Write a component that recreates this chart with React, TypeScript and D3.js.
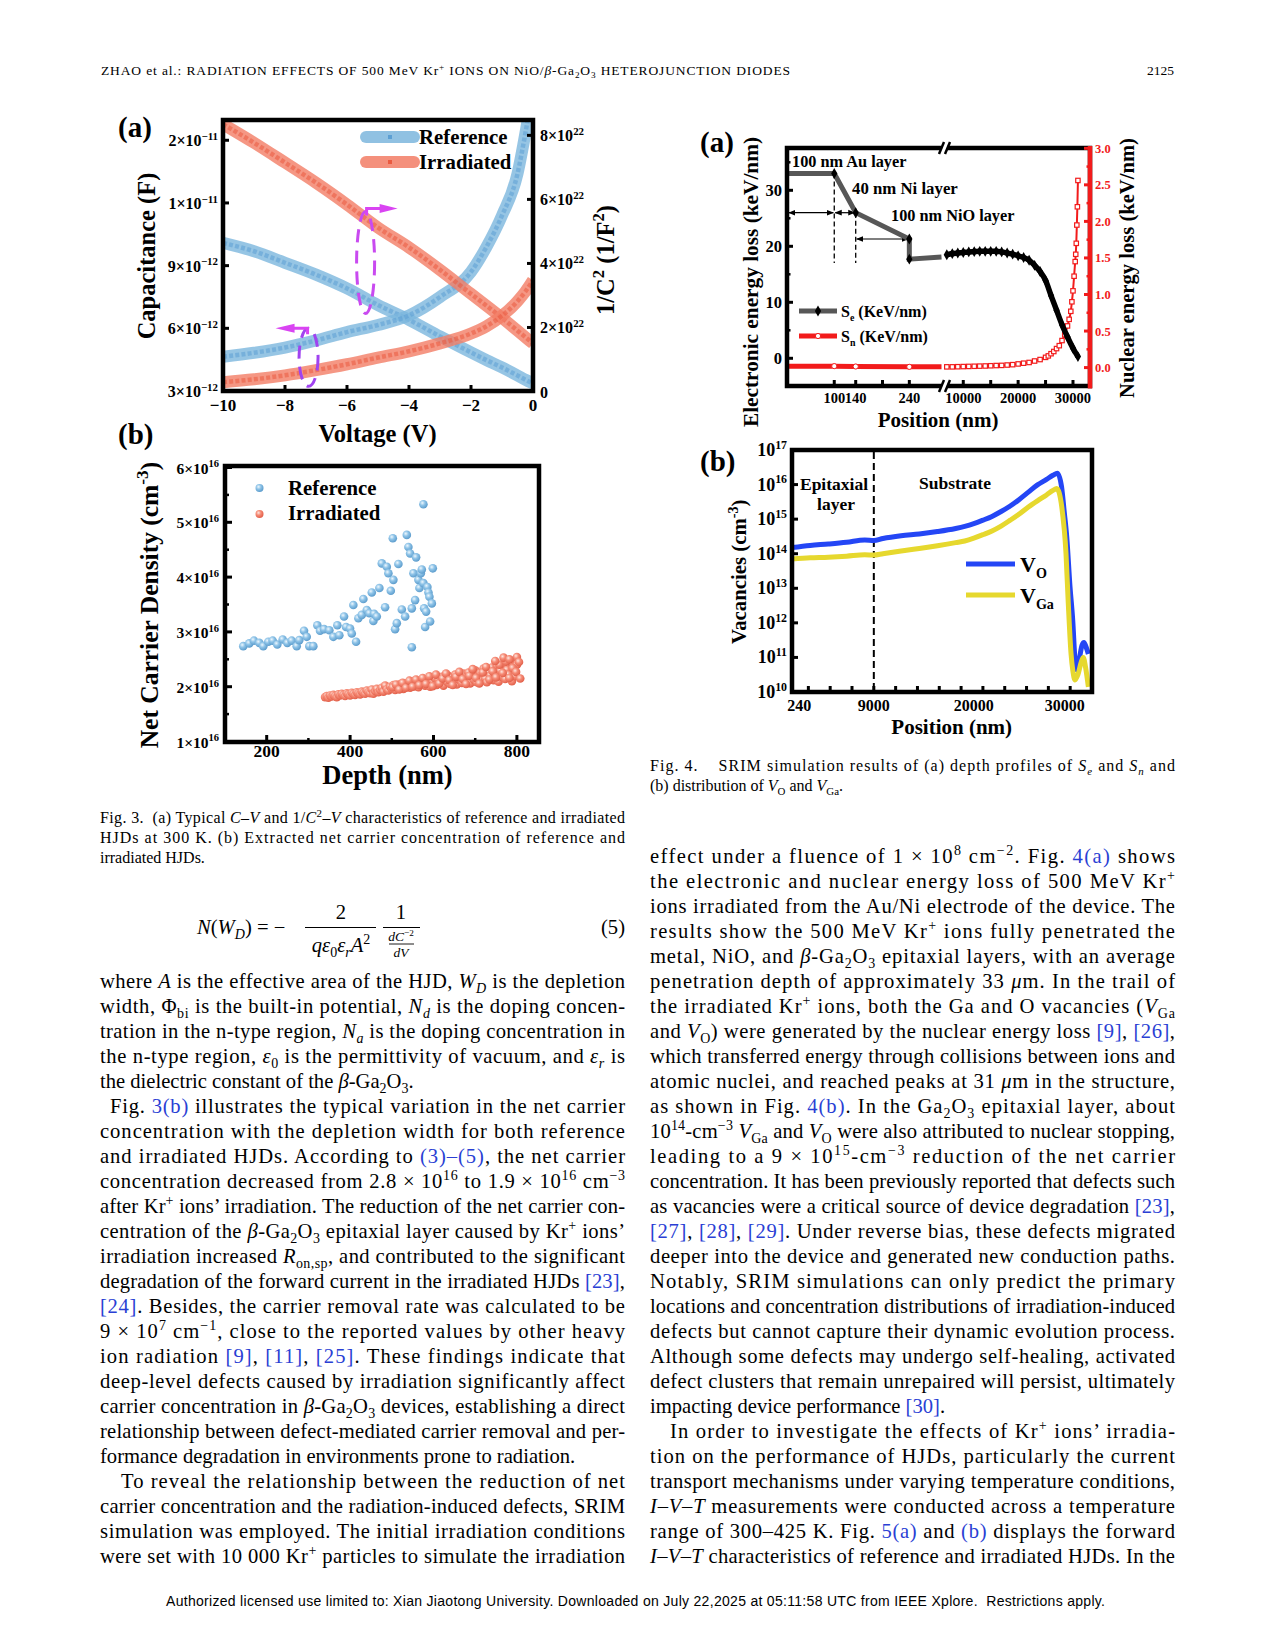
import React from 'react';
import * as d3 from 'd3';

const SERIF = "'Liberation Serif', 'Times New Roman', Times, serif";
const SANS = "'Liberation Sans', Arial, sans-serif";
const LINK = '#2a3fd4';

// ===================== Fig. 3(a) data =====================
const cvVoltage = [-10, -9, -8, -7, -6, -5, -4, -3, -2, -1.5, -1, -0.5, -0.25, 0];
const capReference = [4.64e-12, 4.83e-12, 5.08e-12, 5.42e-12, 5.82e-12, 6.16e-12, 6.62e-12, 7.5e-12, 8.7e-12, 9.9e-12, 11.4e-12, 13.4e-12, 15.3e-12, 17.5e-12];
const capIrradiated = [3.42e-12, 3.56e-12, 3.75e-12, 4.0e-12, 4.28e-12, 4.6e-12, 4.9e-12, 5.28e-12, 5.75e-12, 6.1e-12, 6.6e-12, 7.3e-12, 7.75e-12, 8.3e-12];
const invC2Reference = [4.64e22, 4.38e22, 4.02e22, 3.65e22, 3.22e22, 2.7e22, 2.24e22, 1.72e22, 1.22e22, 0.98e22, 0.75e22, 0.5e22, 0.37e22, 0.25e22];
const invC2Irradiated = [8.35e22, 7.77e22, 7.15e22, 6.52e22, 5.84e22, 5.12e22, 4.5e22, 3.8e22, 3.05e22, 2.68e22, 2.3e22, 1.9e22, 1.7e22, 1.5e22];
const voltTicks = [-10, -8, -6, -4, -2, 0];
const voltTickLabels = ['−10', '−8', '−6', '−4', '−2', '0'];
const capTicks = [3e-12, 6e-12, 9e-12, 12e-12, 15e-12];
const capTickLabels = ['3×10^{−12}', '6×10^{−12}', '9×10^{−12}', '1×10^{−11}', '2×10^{−11}'];
const invTicks = [0, 2e22, 4e22, 6e22, 8e22];
const invTickLabels = ['0', '2×10^{22}', '4×10^{22}', '6×10^{22}', '8×10^{22}'];
const annotVolt = [-5.4, -7.24];
const annotValue = [4.03e22, 4.61e-12];

// ===================== Fig. 3(b) data =====================
const refDepth = [143.8, 158.2, 169.5, 182.2, 191.8, 203.8, 214.4, 225.4, 238.4, 249.4, 260, 272, 278.2, 289.5, 296, 302.2, 311.8, 321.4, 327.9, 337.5, 350.2, 359.8, 369.4, 374.2, 385.5, 390.3, 399.9, 404, 407.8, 414.3, 419.8, 428, 431.8, 440, 446.2, 452, 455.8, 457.5, 464, 470.2, 476, 483.9, 488, 491.8, 497.6, 502.4, 503.8, 507.9, 512, 515.8, 524, 532, 536, 539.8, 543.9, 548, 548, 551.8, 555.9, 558.3, 563.8, 566.2, 569.6, 572, 575.8, 575.8, 577.5, 579.9, 582.3, 585.4, 587.9, 590.2, 591.9, 596, 598.3];
const refDensity = [2.74, 2.79, 2.84, 2.80, 2.74, 2.82, 2.84, 2.77, 2.86, 2.80, 2.84, 2.74, 2.85, 3.02, 2.91, 2.74, 2.74, 3.12, 3.02, 3.05, 3.03, 2.91, 3.12, 2.94, 3.28, 3.09, 3.06, 2.97, 3.49, 2.82, 3.25, 3.31, 3.60, 3.40, 3.34, 3.72, 3.20, 3.33, 3.28, 3.80, 4.25, 3.45, 4.19, 4.07, 3.75, 4.71, 3.95, 3.05, 3.16, 4.24, 3.41, 3.28, 4.77, 4.55, 4.43, 3.43, 2.72, 4.07, 3.58, 4.36, 3.95, 3.80, 4.07, 4.14, 3.89, 5.33, 3.43, 3.09, 3.37, 3.82, 3.72, 3.64, 3.19, 3.52, 4.16];
const irrDepthA = [340, 344, 348, 352, 356, 360, 364, 368, 372, 376, 380, 384, 388, 392, 396, 400, 404, 408, 412, 416, 420, 424, 428, 432, 436, 440, 444, 448, 452, 456, 460, 464, 468, 472, 476, 480, 484, 488, 492, 496, 500, 504, 508, 512, 516, 520, 524, 528, 532, 536, 540, 544, 548, 552, 556, 560, 564, 568, 572, 576, 580, 584, 588, 592, 596, 600, 604, 608, 612, 616, 620, 624, 628, 632, 636, 640, 644, 648, 652, 656, 660, 664, 668, 672, 676, 680, 684, 688, 692, 696, 700, 704, 708, 712, 716, 720, 724, 728, 732, 736, 740, 744, 748, 752, 756, 760, 764, 768, 772, 776, 780, 784, 788, 792, 796, 800];
const irrDensityA = [1.81, 1.83, 1.80, 1.84, 1.82, 1.85, 1.83, 1.81, 1.86, 1.84, 1.87, 1.85, 1.83, 1.88, 1.86, 1.84, 1.89, 1.87, 1.85, 1.90, 1.88, 1.86, 1.91, 1.89, 1.87, 1.93, 1.90, 1.88, 1.95, 1.87, 1.92, 1.96, 1.90, 1.94, 1.98, 1.91, 2.02, 1.95, 1.93, 2.00, 1.96, 2.03, 1.94, 2.01, 1.97, 2.05, 1.99, 1.96, 2.04, 2.00, 2.08, 1.98, 2.03, 2.10, 2.01, 2.06, 1.99, 2.09, 2.04, 2.12, 2.02, 2.07, 2.14, 2.00, 2.10, 2.05, 2.15, 2.03, 2.12, 2.08, 2.18, 2.02, 2.14, 2.09, 2.20, 2.05, 2.16, 2.11, 2.22, 2.04, 2.13, 2.19, 2.07, 2.24, 2.10, 2.17, 2.26, 2.06, 2.21, 2.13, 2.30, 2.08, 2.19, 2.25, 2.11, 2.33, 2.15, 2.08, 2.27, 2.20, 2.35, 2.12, 2.24, 2.38, 2.09, 2.29, 2.18, 2.42, 2.14, 2.31, 2.22, 2.45, 2.10, 2.35, 2.19, 2.40];
const irrDepthB = [502, 510, 518, 526, 534, 542, 550, 558, 566, 574, 582, 590, 598, 606, 614, 622, 630, 638, 646, 654, 662, 670, 678, 686, 694, 702, 710, 718, 726, 734, 742, 750, 758, 766, 774, 782, 790, 798, 768, 800, 805, 782, 748, 808];
const irrDensityB = [1.99, 2.04, 1.95, 2.07, 1.98, 2.11, 2.00, 2.13, 2.03, 2.16, 2.05, 2.19, 2.01, 2.22, 2.06, 2.15, 2.24, 2.12, 2.03, 2.18, 2.27, 2.14, 2.05, 2.20, 2.32, 2.16, 2.06, 2.26, 2.36, 2.13, 2.28, 2.17, 2.40, 2.25, 2.46, 2.16, 2.34, 2.27, 2.53, 2.54, 2.45, 2.50, 2.47, 2.15];
const depthTicks = [200, 400, 600, 800];
const depthMinor = [300, 500, 700];
const densTicks = [1e16, 2e16, 3e16, 4e16, 5e16, 6e16];
const densTickLabels = ['1×10^{16}', '2×10^{16}', '3×10^{16}', '4×10^{16}', '5×10^{16}', '6×10^{16}'];

// ===================== Fig. 4(a) data =====================
const sePos1 = [10, 100, 140, 240, 240, 300];
const seVal1 = [33, 33, 26, 21.3, 17.7, 18.1];
const snPos1 = [10, 100, 140, 240, 300];
const snVal1 = [0.02, 0.02, 0.015, 0.01, 0.01];
const sePos2 = [7000, 8000, 9000, 10000, 11000, 12000, 13000, 14000, 15000, 16000, 17000, 18000, 19000, 20000, 21000, 22000, 23000, 24000, 25000, 26000, 27000, 28000, 29000, 30000, 30900];
const seVal2 = [18.5, 18.7, 18.8, 18.9, 19.0, 19.05, 19.1, 19.1, 19.1, 19.1, 19.0, 18.8, 18.6, 18.3, 18.0, 17.5, 16.6, 15.5, 13.9, 11.2, 8.6, 6.0, 3.8, 1.8, 0.3];
const snPos2 = [7000, 8000, 9000, 10000, 11000, 12000, 13000, 14000, 15000, 16000, 17000, 18000, 19000, 20000, 21000, 22000, 23000, 24000, 25000, 25500, 26000, 26500, 27000, 27500, 28000, 28500, 29000, 29300, 29600, 29800, 30000, 30200, 30400, 30500, 30600, 30700, 30800, 30900];
const snVal2 = [0.01, 0.01, 0.012, 0.014, 0.016, 0.018, 0.02, 0.022, 0.025, 0.028, 0.03, 0.035, 0.04, 0.05, 0.06, 0.07, 0.09, 0.11, 0.14, 0.16, 0.19, 0.22, 0.26, 0.30, 0.37, 0.45, 0.57, 0.66, 0.77, 0.9, 1.05, 1.25, 1.45, 1.55, 1.7, 1.95, 2.2, 2.56];
const eTicks = [0, 10, 20, 30];
const eMinor = [-5, 5, 15, 25, 35];
const nTicks = [0, 0.5, 1.0, 1.5, 2.0, 2.5, 3.0];
const nMinor = [0.25, 0.75, 1.25, 1.75, 2.25, 2.75];
const pos1Ticks = [100, 140, 190, 240];
const pos1Labels = ['100', '140', '', '240'];
const pos2Ticks = [10000, 15000, 20000, 25000, 30000];
const pos2Labels = ['10000', '', '20000', '', '30000'];

// ===================== Fig. 4(b) data =====================
const vacPosO = [0, 2000, 4000, 6000, 8000, 9000, 10000, 12000, 14000, 16000, 18000, 19000, 20000, 21000, 22000, 23000, 24000, 25000, 26000, 27000, 28000, 28700, 29200, 29650, 29950, 30220, 30580, 30880, 31130, 31320, 31600, 31900, 32120, 32350, 32600];
const vacO = [1.51e14, 1.74e14, 1.91e14, 2.14e14, 2.51e14, 2.40e14, 2.75e14, 3.31e14, 3.72e14, 4.37e14, 5.37e14, 6.17e14, 7.41e14, 9.33e14, 1.20e15, 1.66e15, 2.40e15, 3.72e15, 6.03e15, 9.77e15, 1.41e16, 1.86e16, 2.14e16, 8.71e15, 1.58e15, 3.09e14, 1.12e13, 1.20e12, 8.51e10, 4.37e10, 8.91e10, 2.24e11, 2.69e11, 2.00e11, 1.26e11];
const vacPosGa = [0, 2000, 4000, 6000, 8000, 9000, 10000, 12000, 14000, 16000, 18000, 19000, 20000, 21000, 22000, 23000, 24000, 25000, 26000, 27000, 28000, 28700, 29120, 29670, 30140, 30390, 30690, 30900, 31130, 31450, 31800, 32040, 32300, 32600];
const vacGa = [7.08e13, 7.59e13, 7.94e13, 8.51e13, 9.33e13, 9.12e13, 1.00e14, 1.20e14, 1.41e14, 1.70e14, 2.09e14, 2.34e14, 2.82e14, 3.55e14, 4.57e14, 6.31e14, 9.33e14, 1.41e15, 2.24e15, 3.39e15, 5.01e15, 6.76e15, 7.76e15, 2.29e15, 1.02e14, 3.72e12, 1.32e11, 3.98e10, 2.24e10, 3.16e10, 7.08e10, 1.00e11, 5.01e10, 1.41e10];
const vacTicks = [1e10, 1e11, 1e12, 1e13, 1e14, 1e15, 1e16, 1e17];
const vacTickExp = ['10', '11', '12', '13', '14', '15', '16', '17'];
const posBTicks = [1800, 4200, 6600, 9000, 11400, 13800, 16200, 18600, 21000, 23400, 25800, 28200, 30600];
const posBLabelVals = [240, 9000, 20000, 30000];
const posBLabels = ['240', '9000', '20000', '30000'];
const epiBoundary = 9000;

// ===================== rich text helper =====================
type Seg = { t: string; k?: 'sup' | 'sub'; it?: boolean; link?: boolean };
function parse(s: string): Seg[] {
  const out: Seg[] = [];
  let buf = '';
  let i = 0;
  const flush = () => { if (buf) { out.push({ t: buf }); buf = ''; } };
  while (i < s.length) {
    const c = s[i];
    if ('^_~#@%'.includes(c) && s[i + 1] === '{') {
      flush();
      const j = s.indexOf('}', i + 2);
      const t = s.slice(i + 2, j);
      if (c === '^') out.push({ t, k: 'sup' });
      else if (c === '_') out.push({ t, k: 'sub' });
      else if (c === '~') out.push({ t, it: true });
      else if (c === '#') out.push({ t, k: 'sub', it: true });
      else if (c === '@') out.push({ t, k: 'sup', it: true });
      else out.push({ t, link: true });
      i = j + 1;
    } else { buf += c; i++; }
  }
  flush();
  return out;
}

function Rich(p: { x: number; y: number; s: string; size: number; anchor?: string; weight?: string; family?: string; fill?: string; len?: number; rot?: boolean; sup?: number }) {
  const segs = parse(p.s);
  let cur = 0;
  const sc = p.sup ?? 0.68;
  return (
    <text x={p.x} y={p.y} fontSize={p.size} textAnchor={p.anchor ?? 'start'} fontWeight={p.weight ?? 'normal'}
      fontFamily={p.family ?? SERIF} fill={p.fill ?? '#000'} textLength={p.len} lengthAdjust={p.len ? 'spacing' : undefined}
      transform={p.rot ? `rotate(-90 ${p.x} ${p.y})` : undefined} style={{ whiteSpace: 'pre' }}>
      {segs.map((g, i) => {
        const off = g.k === 'sup' ? -p.size * 0.4 : g.k === 'sub' ? p.size * 0.25 : 0;
        const dy = off - cur;
        cur = off;
        return (
          <tspan key={i} dy={dy} fontSize={g.k ? p.size * sc : undefined} fontStyle={g.it ? 'italic' : undefined} fill={g.link ? LINK : undefined}>{g.t}</tspan>
        );
      })}
    </text>
  );
}

const FW = 4.5;

// ===================== Fig 3(a) =====================
function Fig3a() {
  const x = d3.scaleLinear().domain([-10, 0]).range([223, 533]);
  const yL = d3.scaleLinear().domain([3e-12, 15.97e-12]).range([391, 120]);
  const yR = d3.scaleLinear().domain([0, 8.48e22]).range([391.5, 120]);
  const lineL = d3.line<number>().x((_, i) => x(cvVoltage[i])).y(d => yL(d)).curve(d3.curveMonotoneX);
  const lineR = d3.line<number>().x((_, i) => x(cvVoltage[i])).y(d => yR(d)).curve(d3.curveMonotoneX);
  const blue = '#7cb6dd', blueCore = '#5c9fd3', red = '#f27d65', redCore = '#ea5a40';
  const band = (d: string | null, c: string, core: string) => (
    <g>
      <path d={d ?? ''} fill="none" stroke={c} strokeWidth={12} strokeOpacity={0.8} />
      <path d={d ?? ''} fill="none" stroke={core} strokeWidth={4.5} strokeDasharray="4 2.2" strokeOpacity={0.55} />
    </g>
  );
  const [x0, x1] = x.range();
  const e1x = x(annotVolt[0]), e1y = yR(annotValue[0]);
  const e2x = x(annotVolt[1]), e2y = yL(annotValue[1]);
  return (
    <g>
      <clipPath id="clip3a"><rect x={x0} y={120} width={x1 - x0} height={271} /></clipPath>
      <g clipPath="url(#clip3a)">
        {band(lineR(invC2Reference), blue, blueCore)}
        {band(lineL(capReference), blue, blueCore)}
        {band(lineR(invC2Irradiated), red, redCore)}
        {band(lineL(capIrradiated), red, redCore)}
      </g>
      <ellipse cx={e1x} cy={e1y} rx={9} ry={51} fill="none" stroke="#c94af0" strokeWidth={3} strokeDasharray="13 8" />
      <path d={`M${e1x + 1},${e1y - 47} L${e1x + 1},${e1y - 54} L${e1x + 16},${e1y - 54}`} fill="none" stroke="#d944f2" strokeWidth={3} />
      <path d={`M${e1x + 14},${e1y - 58.5} L${e1x + 32},${e1y - 54} L${e1x + 14},${e1y - 49.5} Z`} fill="#d944f2" />
      <ellipse cx={e2x} cy={e2y} rx={9.5} ry={29} fill="none" stroke="#a043f0" strokeWidth={3} strokeDasharray="13 8" />
      <path d={`M${e2x - 1},${e2y - 23} L${e2x - 1},${e2y - 29} L${e2x - 16},${e2y - 29}`} fill="none" stroke="#d944f2" strokeWidth={3} />
      <path d={`M${e2x - 14},${e2y - 33.5} L${e2x - 33},${e2y - 29} L${e2x - 14},${e2y - 24.5} Z`} fill="#d944f2" />
      <rect x={223} y={120} width={310} height={271} fill="none" stroke="#000" strokeWidth={FW} />
      {voltTicks.map((v, i) => (
        <g key={i}>
          <line x1={x(v)} x2={x(v)} y1={391} y2={385} stroke="#000" strokeWidth={3} />
          <Rich x={x(v)} y={411} s={voltTickLabels[i]} size={17} anchor="middle" weight="bold" />
        </g>
      ))}
      {capTicks.map((v, i) => (
        <g key={i}>
          <line x1={223} x2={229} y1={yL(v)} y2={yL(v)} stroke="#000" strokeWidth={3} />
          <Rich x={218} y={yL(v) + 6} s={capTickLabels[i]} size={16} anchor="end" weight="bold" />
        </g>
      ))}
      {invTicks.map((v, i) => (
        <g key={i}>
          <line x1={533} x2={527} y1={yR(v)} y2={yR(v)} stroke="#000" strokeWidth={3} />
          <Rich x={540} y={yR(v) + 6} s={invTickLabels[i]} size={16} weight="bold" />
        </g>
      ))}
      <line x1={366} x2={414} y1={137} y2={137} stroke={blue} strokeOpacity={0.85} strokeWidth={12} strokeLinecap="round" />
      <rect x={388} y={135} width={4} height={4} fill={blueCore} />
      <text x={419} y={144} fontFamily={SERIF} fontWeight="bold" fontSize={20.8}>Reference</text>
      <line x1={366} x2={414} y1={162} y2={162} stroke={red} strokeOpacity={0.85} strokeWidth={12} strokeLinecap="round" />
      <rect x={388} y={160} width={4} height={4} fill={redCore} />
      <text x={419} y={169} fontFamily={SERIF} fontWeight="bold" fontSize={20.8}>Irradiated</text>
      <text x={118} y={137} fontFamily={SERIF} fontWeight="bold" fontSize={29}>(a)</text>
      <Rich x={155} y={256} s="Capacitance (F)" size={24.5} anchor="middle" weight="bold" rot />
      <Rich x={614} y={260} s="1/C^{2} (1/F^{2})" size={24.5} anchor="middle" weight="bold" rot />
      <text x={377.5} y={441.7} textAnchor="middle" fontFamily={SERIF} fontWeight="bold" fontSize={24.5}>Voltage (V)</text>
    </g>
  );
}

// ===================== Fig 3(b) =====================
function Fig3b() {
  const x = d3.scaleLinear().domain([100, 853]).range([225, 539]);
  const y = d3.scaleLinear().domain([1e16, 6e16]).range([741.5, 467.5]);
  return (
    <g>
      <defs>
        <radialGradient id="gBlue" cx="38%" cy="35%" r="65%">
          <stop offset="0%" stopColor="#eef7fd" />
          <stop offset="45%" stopColor="#8fc4e8" />
          <stop offset="100%" stopColor="#5d9dcd" />
        </radialGradient>
        <radialGradient id="gRed" cx="38%" cy="35%" r="65%">
          <stop offset="0%" stopColor="#fde6df" />
          <stop offset="45%" stopColor="#f68b76" />
          <stop offset="100%" stopColor="#e2604a" />
        </radialGradient>
      </defs>
      {refDepth.map((d, i) => <circle key={'b' + i} cx={x(d)} cy={y(refDensity[i] * 1e16)} r={4.3} fill="url(#gBlue)" />)}
      {irrDepthA.map((d, i) => <circle key={'ra' + i} cx={x(d)} cy={y(irrDensityA[i] * 1e16)} r={4.3} fill="url(#gRed)" />)}
      {irrDepthB.map((d, i) => <circle key={'rb' + i} cx={x(d)} cy={y(irrDensityB[i] * 1e16)} r={4.3} fill="url(#gRed)" />)}
      <rect x={225} y={466} width={314} height={276} fill="none" stroke="#000" strokeWidth={FW} />
      {depthTicks.map((v, i) => (
        <g key={i}>
          <line x1={x(v)} x2={x(v)} y1={742} y2={735} stroke="#000" strokeWidth={3} />
          <text x={x(v)} y={757} textAnchor="middle" fontFamily={SERIF} fontWeight="bold" fontSize={17.5}>{v}</text>
        </g>
      ))}
      {depthMinor.map((v, i) => <line key={i} x1={x(v)} x2={x(v)} y1={742} y2={738} stroke="#000" strokeWidth={2.5} />)}
      {densTicks.map((v, i) => (
        <g key={i}>
          <line x1={225} x2={232} y1={y(v)} y2={y(v)} stroke="#000" strokeWidth={3} />
          <Rich x={219} y={y(v) + 6} s={densTickLabels[i]} size={15.5} anchor="end" weight="bold" />
        </g>
      ))}
      {densTicks.slice(0, 5).map((v, i) => <line key={'m' + i} x1={225} x2={229} y1={y(v + 0.5e16)} y2={y(v + 0.5e16)} stroke="#000" strokeWidth={2.5} />)}
      <circle cx={259.5} cy={488} r={4} fill="url(#gBlue)" />
      <text x={288} y={495} fontFamily={SERIF} fontWeight="bold" fontSize={20.8}>Reference</text>
      <circle cx={259.5} cy={514} r={4} fill="url(#gRed)" />
      <text x={288} y={520} fontFamily={SERIF} fontWeight="bold" fontSize={20.8}>Irradiated</text>
      <text x={118} y={444} fontFamily={SERIF} fontWeight="bold" fontSize={29}>(b)</text>
      <Rich x={158} y={605} s="Net Carrier Density (cm^{-3})" size={25.5} anchor="middle" weight="bold" rot />
      <text x={387.5} y={784} textAnchor="middle" fontFamily={SERIF} fontWeight="bold" fontSize={26.5}>Depth (nm)</text>
    </g>
  );
}

// ===================== Fig 4(a) =====================
function Fig4a() {
  const xs1 = d3.scaleLinear().domain([10, 300]).range([786, 941.5]);
  const xs2 = d3.scaleLinear().domain([6670, 33100]).range([945, 1090]);
  const yE = d3.scaleLinear().domain([-5, 37.5]).range([386.3, 148.3]);
  const yN = d3.scaleLinear().domain([-0.256, 3.0]).range([386.3, 148.3]);
  const se1 = d3.line<number>().x((_, i) => xs1(sePos1[i])).y(d => yE(d));
  const sn1 = d3.line<number>().x((_, i) => xs1(snPos1[i])).y(d => yN(d));
  const se2 = d3.line<number>().x((_, i) => xs2(sePos2[i])).y(d => yE(d)).curve(d3.curveMonotoneX);
  const sn2 = d3.line<number>().x((_, i) => xs2(snPos2[i])).y(d => yN(d)).curve(d3.curveMonotoneX);
  const dia = d3.symbol().type(d3.symbolDiamond).size(34);
  const RED = '#f21b1b';
  const brk = (yy: number) => (
    <g>
      <rect x={941} y={yy - 5} width={6} height={10} fill="#fff" />
      <line x1={939} y1={yy + 6} x2={944} y2={yy - 6} stroke="#000" strokeWidth={2.5} />
      <line x1={945} y1={yy + 6} x2={950} y2={yy - 6} stroke="#000" strokeWidth={2.5} />
    </g>
  );
  return (
    <g>
      <defs>
        <marker id="arrA" viewBox="0 0 10 10" refX="9" refY="5" markerWidth="6" markerHeight="6" orient="auto-start-reverse">
          <path d="M0,1 L10,5 L0,9 Z" fill="#000" />
        </marker>
      </defs>
      <clipPath id="clip4a"><rect x={787} y={148} width={303} height={238} /></clipPath>
      <line x1={xs1(100)} x2={xs1(100)} y1={yE(33)} y2={yE(17)} stroke="#000" strokeWidth={1.3} strokeDasharray="5 3" />
      <line x1={xs1(140)} x2={xs1(140)} y1={yE(26)} y2={yE(17)} stroke="#000" strokeWidth={1.3} strokeDasharray="5 3" />
      <line x1={xs1(10) + 3} x2={xs1(100) - 1} y1={yE(26)} y2={yE(26)} stroke="#000" strokeWidth={1.2} markerStart="url(#arrA)" markerEnd="url(#arrA)" />
      <line x1={xs1(100) + 1} x2={xs1(140) - 1} y1={yE(26)} y2={yE(26)} stroke="#000" strokeWidth={1.2} markerStart="url(#arrA)" markerEnd="url(#arrA)" />
      <line x1={xs1(140) + 1} x2={xs1(240) - 1} y1={yE(21.3)} y2={yE(21.3)} stroke="#000" strokeWidth={1.2} markerStart="url(#arrA)" markerEnd="url(#arrA)" />
      <g clipPath="url(#clip4a)">
        <path d={sn1(snVal1) ?? ''} fill="none" stroke={RED} strokeWidth={5} />
        {snPos1.slice(1, 4).map((p, i) => <circle key={i} cx={xs1(p)} cy={yN(snVal1[i + 1])} r={2.6} fill="#fff" stroke={RED} strokeWidth={1} />)}
        <path d={se1(seVal1) ?? ''} fill="none" stroke="#575757" strokeWidth={5} />
        {sePos1.slice(1, 5).map((p, i) => <path key={i} d={dia() ?? ''} transform={`translate(${xs1(p)},${yE(seVal1[i + 1])})`} fill="#000" />)}
        <path d={sn2(snVal2) ?? ''} fill="none" stroke={RED} strokeWidth={2} />
        {snPos2.map((p, i) => <rect key={i} x={xs2(p) - 2.2} y={yN(snVal2[i]) - 2.2} width={4.4} height={4.4} fill="#fff" stroke={RED} strokeWidth={1.2} />)}
        <path d={se2(seVal2) ?? ''} fill="none" stroke="#000" strokeWidth={5.5} />
        {sePos2.map((p, i) => <path key={i} d={dia() ?? ''} transform={`translate(${xs2(p)},${yE(seVal2[i])})`} fill="#000" />)}
      </g>
      <rect x={787} y={148} width={303} height={238} fill="none" stroke="#000" strokeWidth={FW} />
      <line x1={1090} x2={1090} y1={146} y2={388.5} stroke={RED} strokeWidth={FW} />
      {brk(148)}
      {brk(386)}
      {eTicks.map((v, i) => (
        <g key={i}>
          <line x1={787} x2={793} y1={yE(v)} y2={yE(v)} stroke="#000" strokeWidth={3} />
          <text x={782} y={yE(v) + 6} textAnchor="end" fontFamily={SERIF} fontWeight="bold" fontSize={16.5}>{v}</text>
        </g>
      ))}
      {eMinor.map((v, i) => <line key={i} x1={787} x2={790.5} y1={yE(v)} y2={yE(v)} stroke="#000" strokeWidth={2.5} />)}
      {nTicks.map((v, i) => (
        <g key={i}>
          <line x1={1090} x2={1084} y1={yN(v)} y2={yN(v)} stroke={RED} strokeWidth={3} />
          <text x={1095} y={yN(v) + 4.5} fontFamily={SERIF} fontWeight="bold" fontSize={12.5} fill={RED}>{v.toFixed(1)}</text>
        </g>
      ))}
      {nMinor.map((v, i) => <line key={i} x1={1090} x2={1086.5} y1={yN(v)} y2={yN(v)} stroke={RED} strokeWidth={2.5} />)}
      {pos1Ticks.map((v, i) => (
        <g key={i}>
          <line x1={xs1(v)} x2={xs1(v)} y1={386} y2={380} stroke="#000" strokeWidth={3} />
          <text x={xs1(v)} y={403} textAnchor="middle" fontFamily={SERIF} fontWeight="bold" fontSize={14.5}>{pos1Labels[i]}</text>
        </g>
      ))}
      {pos2Ticks.map((v, i) => (
        <g key={i}>
          <line x1={xs2(v)} x2={xs2(v)} y1={386} y2={380} stroke="#000" strokeWidth={3} />
          <text x={xs2(v)} y={403} textAnchor="middle" fontFamily={SERIF} fontWeight="bold" fontSize={14.5}>{pos2Labels[i]}</text>
        </g>
      ))}
      <text x={792} y={166.5} fontFamily={SERIF} fontWeight="bold" fontSize={16.3}>100 nm Au layer</text>
      <text x={852} y={194.3} fontFamily={SERIF} fontWeight="bold" fontSize={16.8}>40 nm Ni layer</text>
      <text x={891} y={220.7} fontFamily={SERIF} fontWeight="bold" fontSize={16.3}>100 nm NiO layer</text>
      <line x1={799} x2={837} y1={311} y2={311} stroke="#575757" strokeWidth={5} />
      <path d={dia() ?? ''} transform="translate(818,311)" fill="#000" />
      <Rich x={841} y={317} s="S_{e} (KeV/nm)" size={16} weight="bold" sup={0.62} />
      <line x1={799} x2={837} y1={336} y2={336} stroke={RED} strokeWidth={5} />
      <circle cx={818} cy={336} r={2.6} fill="#fff" stroke={RED} strokeWidth={1} />
      <Rich x={841} y={342} s="S_{n} (KeV/nm)" size={16} weight="bold" sup={0.62} />
      <text x={700} y={152} fontFamily={SERIF} fontWeight="bold" fontSize={29}>(a)</text>
      <text x={758} y={282} textAnchor="middle" transform="rotate(-90 758 282)" fontFamily={SERIF} fontWeight="bold" fontSize={21.3}>Electronic energy loss (keV/nm)</text>
      <text x={1134} y={268} textAnchor="middle" transform="rotate(-90 1134 268)" fontFamily={SERIF} fontWeight="bold" fontSize={20.6}>Nuclear energy loss (keV/nm)</text>
      <text x={938} y={427} textAnchor="middle" fontFamily={SERIF} fontWeight="bold" fontSize={21}>Position (nm)</text>
    </g>
  );
}

// ===================== Fig 4(b) =====================
function Fig4b() {
  const x = d3.scaleLinear().domain([0, 33000]).range([792, 1092]);
  const y = d3.scaleLog().domain([1e10, 1e17]).range([692, 450]);
  const lo = d3.line<number>().x((_, i) => x(vacPosO[i])).y(d => y(d)).curve(d3.curveMonotoneX);
  const lg = d3.line<number>().x((_, i) => x(vacPosGa[i])).y(d => y(d)).curve(d3.curveMonotoneX);
  const BLUE = '#2446f5', YEL = '#e6d82e';
  return (
    <g>
      <clipPath id="clip4b"><rect x={792} y={450} width={300} height={242} /></clipPath>
      <line x1={x(epiBoundary)} x2={x(epiBoundary)} y1={452} y2={690} stroke="#000" strokeWidth={2} strokeDasharray="7 4" />
      <g clipPath="url(#clip4b)">
        <path d={lo(vacO) ?? ''} fill="none" stroke={BLUE} strokeWidth={5} />
        <path d={lg(vacGa) ?? ''} fill="none" stroke={YEL} strokeWidth={5} />
      </g>
      <rect x={792} y={450} width={300} height={242} fill="none" stroke="#000" strokeWidth={FW} />
      {vacTicks.map((v, i) => (
        <g key={i}>
          <line x1={792} x2={798} y1={y(v)} y2={y(v)} stroke="#000" strokeWidth={3} />
          <Rich x={787} y={y(v) + 6} s={'10^{' + vacTickExp[i] + '}'} size={18} anchor="end" weight="bold" sup={0.66} />
        </g>
      ))}
      {posBTicks.map((v, i) => <line key={i} x1={x(v)} x2={x(v)} y1={692} y2={686} stroke="#000" strokeWidth={3} />)}
      {posBLabelVals.map((v, i) => (
        <text key={i} x={x(v) + (i === 0 ? 5 : 0)} y={711} textAnchor="middle" fontFamily={SERIF} fontWeight="bold" fontSize={16}>{posBLabels[i]}</text>
      ))}
      <text x={834} y={490} textAnchor="middle" fontFamily={SERIF} fontWeight="bold" fontSize={17.5}>Epitaxial</text>
      <text x={836} y={510} textAnchor="middle" fontFamily={SERIF} fontWeight="bold" fontSize={17.5}>layer</text>
      <text x={955} y={489.3} textAnchor="middle" fontFamily={SERIF} fontWeight="bold" fontSize={17.5}>Substrate</text>
      <line x1={966} x2={1015} y1={564} y2={564} stroke={BLUE} strokeWidth={5} />
      <Rich x={1020} y={572} s="V_{O}" size={22} weight="bold" sup={0.64} />
      <line x1={966} x2={1015} y1={595} y2={595} stroke={YEL} strokeWidth={5} />
      <Rich x={1020} y={603} s="V_{Ga}" size={22} weight="bold" sup={0.64} />
      <text x={700} y={471} fontFamily={SERIF} fontWeight="bold" fontSize={29}>(b)</text>
      <Rich x={746} y={571.7} s="Vacancies (cm^{-3})" size={20.8} anchor="middle" weight="bold" rot />
      <text x={951.7} y={734} textAnchor="middle" fontFamily={SERIF} fontWeight="bold" fontSize={21}>Position (nm)</text>
    </g>
  );
}

// ===================== Text =====================
const leftBody: [string, number, boolean][] = [
  ['where ~{A} is the effective area of the HJD, ~{W}#{D} is the depletion', 0, true],
  ['width, Φ_{bi} is the built-in potential, ~{N}#{d} is the doping concen-', 0, true],
  ['tration in the n-type region, ~{N}#{a} is the doping concentration in', 0, true],
  ['the n-type region, ~{ε}_{0} is the permittivity of vacuum, and ~{ε}#{r} is', 0, true],
  ['the dielectric constant of the ~{β}-Ga_{2}O_{3}.', 0, false],
  ['Fig. %{3(b)} illustrates the typical variation in the net carrier', 10, true],
  ['concentration with the depletion width for both reference', 0, true],
  ['and irradiated HJDs. According to %{(3)–(5)}, the net carrier', 0, true],
  ['concentration decreased from 2.8 × 10^{16} to 1.9 × 10^{16} cm^{−3}', 0, true],
  ['after Kr^{+} ions’ irradiation. The reduction of the net carrier con-', 0, true],
  ['centration of the ~{β}-Ga_{2}O_{3} epitaxial layer caused by Kr^{+} ions’', 0, true],
  ['irradiation increased ~{R}_{on,sp}, and contributed to the significant', 0, true],
  ['degradation of the forward current in the irradiated HJDs %{[23]},', 0, true],
  ['%{[24]}. Besides, the carrier removal rate was calculated to be', 0, true],
  ['9 × 10^{7} cm^{−1}, close to the reported values by other heavy', 0, true],
  ['ion radiation %{[9]}, %{[11]}, %{[25]}. These findings indicate that', 0, true],
  ['deep-level defects caused by irradiation significantly affect', 0, true],
  ['carrier concentration in ~{β}-Ga_{2}O_{3} devices, establishing a direct', 0, true],
  ['relationship between defect-mediated carrier removal and per-', 0, true],
  ['formance degradation in environments prone to radiation.', 0, false],
  ['To reveal the relationship between the reduction of net', 21, true],
  ['carrier concentration and the radiation-induced defects, SRIM', 0, true],
  ['simulation was employed. The initial irradiation conditions', 0, true],
  ['were set with 10 000 Kr^{+} particles to simulate the irradiation', 0, true],
];
const rightBody: [string, number, boolean][] = [
  ['effect under a fluence of 1 × 10^{8} cm^{−2}. Fig. %{4(a)} shows', 0, true],
  ['the electronic and nuclear energy loss of 500 MeV Kr^{+}', 0, true],
  ['ions irradiated from the Au/Ni electrode of the device. The', 0, true],
  ['results show the 500 MeV Kr^{+} ions fully penetrated the', 0, true],
  ['metal, NiO, and ~{β}-Ga_{2}O_{3} epitaxial layers, with an average', 0, true],
  ['penetration depth of approximately 33 ~{μ}m. In the trail of', 0, true],
  ['the irradiated Kr^{+} ions, both the Ga and O vacancies (~{V}_{Ga}', 0, true],
  ['and ~{V}_{O}) were generated by the nuclear energy loss %{[9]}, %{[26]},', 0, true],
  ['which transferred energy through collisions between ions and', 0, true],
  ['atomic nuclei, and reached peaks at 31 ~{μ}m in the structure,', 0, true],
  ['as shown in Fig. %{4(b)}. In the Ga_{2}O_{3} epitaxial layer, about', 0, true],
  ['10^{14}-cm^{−3} ~{V}_{Ga} and ~{V}_{O} were also attributed to nuclear stopping,', 0, true],
  ['leading to a 9 × 10^{15}-cm^{−3} reduction of the net carrier', 0, true],
  ['concentration. It has been previously reported that defects such', 0, true],
  ['as vacancies were a critical source of device degradation %{[23]},', 0, true],
  ['%{[27]}, %{[28]}, %{[29]}. Under reverse bias, these defects migrated', 0, true],
  ['deeper into the device and generated new conduction paths.', 0, true],
  ['Notably, SRIM simulations can only predict the primary', 0, true],
  ['locations and concentration distributions of irradiation-induced', 0, true],
  ['defects but cannot capture their dynamic evolution process.', 0, true],
  ['Although some defects may undergo self-healing, activated', 0, true],
  ['defect clusters that remain unrepaired will persist, ultimately', 0, true],
  ['impacting device performance %{[30]}.', 0, false],
  ['In order to investigate the effects of Kr^{+} ions’ irradia-', 20, true],
  ['tion on the performance of HJDs, particularly the current', 0, true],
  ['transport mechanisms under varying temperature conditions,', 0, true],
  ['~{I}–~{V}–~{T} measurements were conducted across a temperature', 0, true],
  ['range of 300–425 K. Fig. %{5(a)} and %{(b)} displays the forward', 0, true],
  ['~{I}–~{V}–~{T} characteristics of reference and irradiated HJDs. In the', 0, true],
];

const headerText = 'ZHAO et al.: RADIATION EFFECTS OF 500 MeV Kr^{+} IONS ON NiO/~{β}-Ga_{2}O_{3} HETEROJUNCTION DIODES';

function Body() {
  const BS = 20.6;
  return (
    <g>
      <Rich x={101} y={75} s={headerText} size={13.5} len={689} />
      <text x={1174} y={75} textAnchor="end" fontFamily={SERIF} fontSize={13.5}>2125</text>
      <Rich x={100} y={823} s="Fig. 3.  (a) Typical ~{C}–~{V} and 1/~{C}^{2}–~{V} characteristics of reference and irradiated" size={16} len={525} />
      <Rich x={100} y={843} s="HJDs at 300 K. (b) Extracted net carrier concentration of reference and" size={16} len={525} />
      <Rich x={100} y={863} s="irradiated HJDs." size={16} />
      <Rich x={650} y={771} s="Fig. 4.    SRIM simulation results of (a) depth profiles of ~{S}#{e} and ~{S}#{n} and" size={16} len={525} />
      <Rich x={650} y={791} s="(b) distribution of ~{V}_{O} and ~{V}_{Ga}." size={16} />
      <Rich x={197} y={934} s="~{N}(~{W}#{D}) = −" size={BS} />
      <text x={341} y={919} textAnchor="middle" fontFamily={SERIF} fontSize={BS}>2</text>
      <line x1={305} x2={376} y1={927.5} y2={927.5} stroke="#000" strokeWidth={1.1} />
      <Rich x={341} y={952} s="~{q}~{ε}_{0}~{ε}#{r}~{A}^{2}" size={BS} anchor="middle" />
      <text x={401} y={919} textAnchor="middle" fontFamily={SERIF} fontSize={BS}>1</text>
      <line x1={383} x2={420} y1={927.5} y2={927.5} stroke="#000" strokeWidth={1.1} />
      <Rich x={401} y={941} s="~{dC}^{−2}" size={13.5} anchor="middle" />
      <line x1={389} x2={414} y1={944} y2={944} stroke="#000" strokeWidth={0.9} />
      <Rich x={401} y={957} s="~{dV}" size={13.5} anchor="middle" />
      <text x={625} y={934} textAnchor="end" fontFamily={SERIF} fontSize={BS}>(5)</text>
      {leftBody.map(([s, ind, just], i) => (
        <Rich key={'l' + i} x={100 + ind} y={988 + i * 25} s={s} size={BS} len={just ? 525 - ind : undefined} />
      ))}
      {rightBody.map(([s, ind, just], i) => (
        <Rich key={'r' + i} x={650 + ind} y={863 + i * 25} s={s} size={BS} len={just ? 525 - ind : undefined} />
      ))}
      <text x={166} y={1606} fontFamily={SANS} fontSize={14} textLength={939} lengthAdjust="spacing" style={{ whiteSpace: 'pre' }}>Authorized licensed use limited to: Xian Jiaotong University. Downloaded on July 22,2025 at 05:11:58 UTC from IEEE Xplore.  Restrictions apply.</text>
    </g>
  );
}

export default function App() {
  return (
    <svg width={1275} height={1650} viewBox="0 0 1275 1650" xmlns="http://www.w3.org/2000/svg"
      style={{ position: 'absolute', left: 0, top: 0, background: '#fff' }}>
      <rect x={0} y={0} width={1275} height={1650} fill="#fff" />
      <Fig3a />
      <Fig3b />
      <Fig4a />
      <Fig4b />
      <Body />
    </svg>
  );
}
